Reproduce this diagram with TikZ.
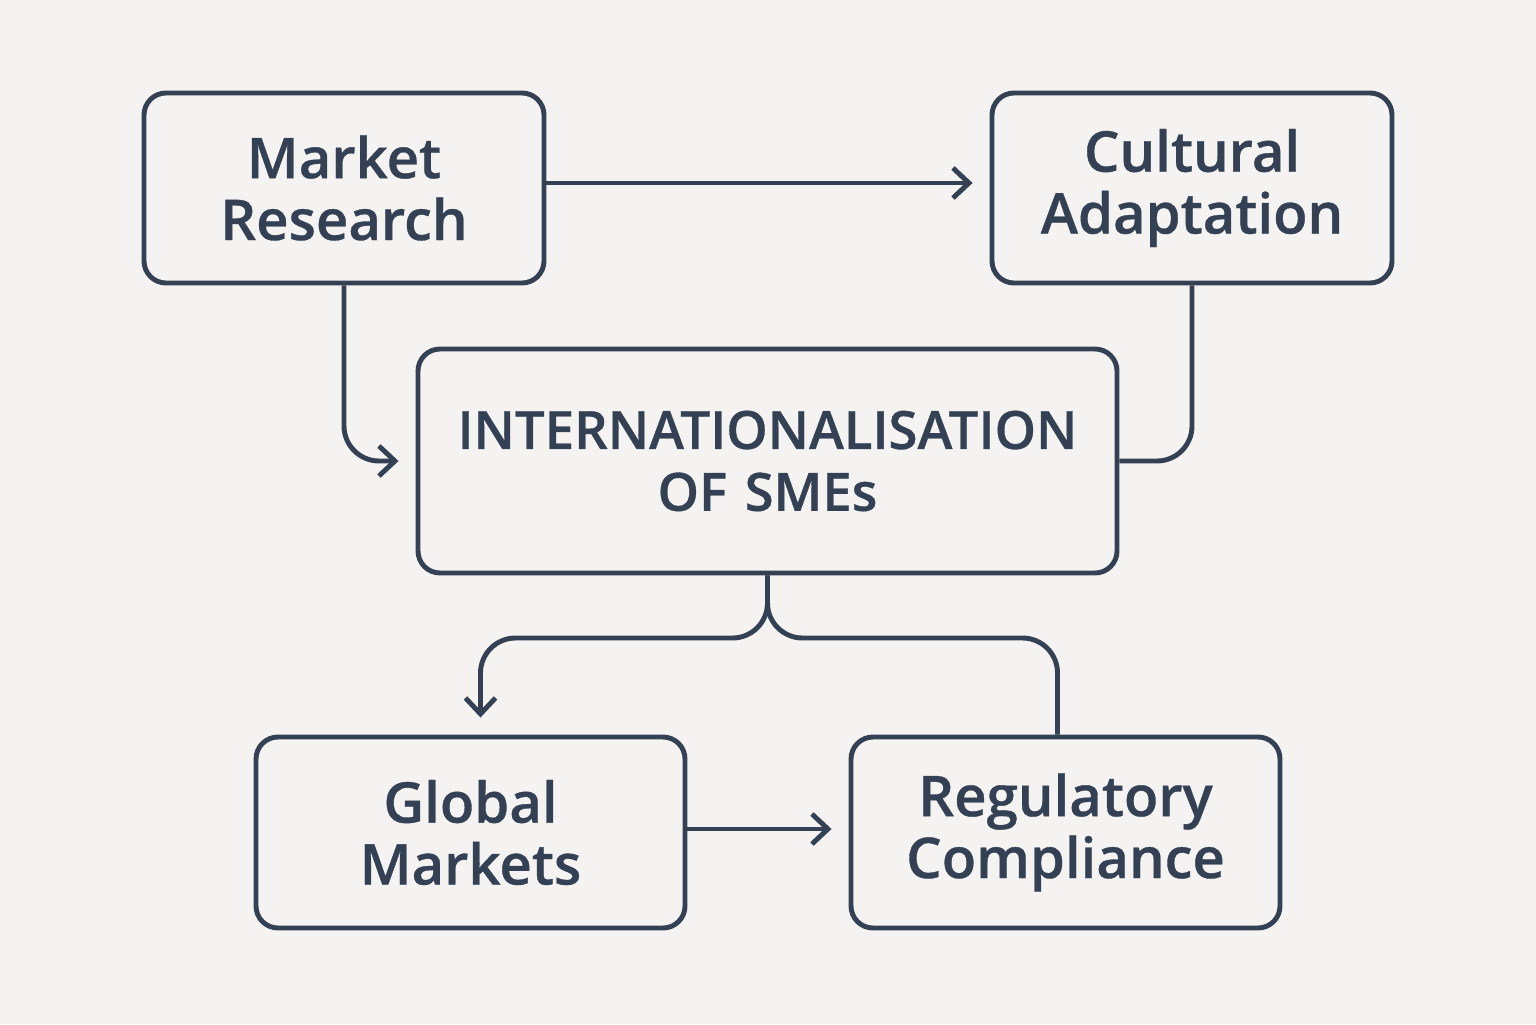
\documentclass[tikz,border=0pt]{standalone}
\usepackage{fontspec}
\setmainfont{Open Sans}[BoldFont={* Semibold}, BoldFeatures={FakeBold=0.6}]
\usetikzlibrary{arrows.meta}
\definecolor{ink}{RGB}{52,65,84}
\definecolor{paper}{RGB}{244,243,241}
\begin{document}
\begin{tikzpicture}[
  box/.style = {draw=ink, line width=1.4pt, rounded corners=0.22cm, align=center,
    text=ink, font=\bfseries\fontsize{16pt}{17.6pt}\selectfont},
  link/.style = {draw=ink, line width=1.4pt, rounded corners=0.35cm},
  tip/.style = {-{Straight Barb[length=0.16cm, width=0.3cm, line width=1.4pt]}, shorten >=0.17cm}
]
\fill[paper] (0,0) rectangle (15.36,10.24);
\useasboundingbox (0,0) rectangle (15.36,10.24);

\node[box, minimum width=4cm, minimum height=1.9cm] (research) at (3.44,8.36) {Market\\Research};
\node[box, minimum width=4cm, minimum height=1.9cm] (culture) at (11.92,8.36) {Cultural\\Adaptation};
\node[box, minimum width=6.99cm, minimum height=2.24cm, text width=6.5cm,
  font=\bfseries\fontsize{15pt}{17.6pt}\selectfont] (sme) at (7.675,5.63) {INTERNATIONALISATION\\OF SMEs};
\node[box, minimum width=4.29cm, minimum height=1.91cm] (global) at (4.705,1.915) {Global\\Markets};
\node[box, minimum width=4.29cm, minimum height=1.91cm] (compliance) at (10.655,1.915) {Regulatory\\Compliance};

\coordinate (fork) at (7.68,3.86);

\draw[link, tip] ([yshift=0.05cm]research.east) -- ([yshift=0.05cm]culture.west);
\draw[link, tip] (research.south) |- (sme.west);
\draw[link] (culture.south) |- (sme.east);
\draw[link, tip] (sme.south) |- ([xshift=0.1cm]global.north |- fork) -- ([xshift=0.1cm]global.north);
\draw[link] (sme.south) |- ([xshift=-0.08cm]compliance.north |- fork) -- ([xshift=-0.08cm]compliance.north);
\draw[link, tip] ([yshift=0.035cm]global.east) -- ([yshift=0.035cm]compliance.west);
\end{tikzpicture}
\end{document}
